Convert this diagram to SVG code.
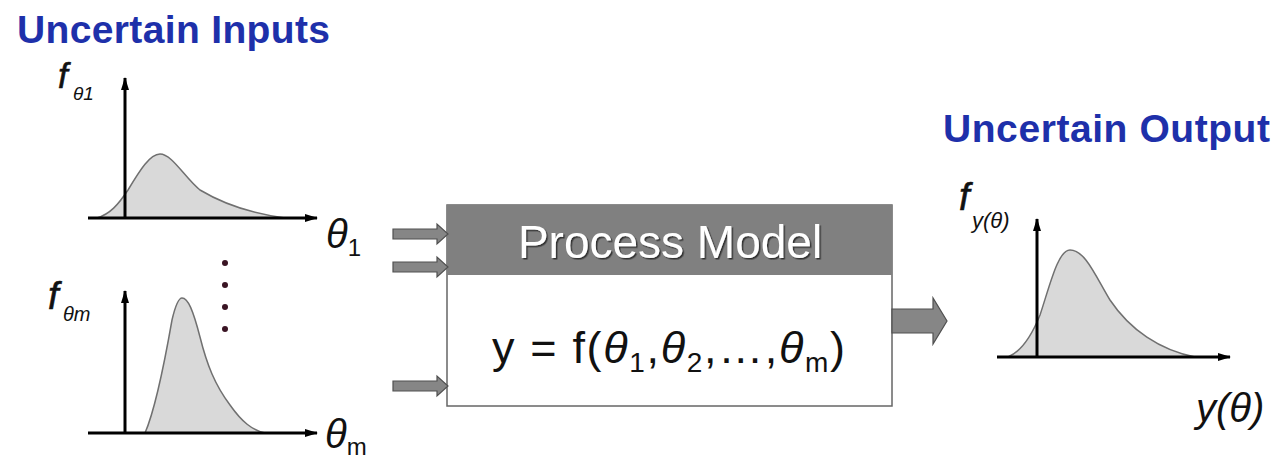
<svg xmlns="http://www.w3.org/2000/svg" width="1279" height="459" viewBox="0 0 1279 459">
<style>
.title{font-family:"Liberation Sans",Arial,sans-serif;font-weight:bold;font-size:39px;fill:#1e30aa}
.axis{stroke:#000;stroke-width:3;fill:none}
.pdf{fill:#d9d9d9;stroke:#707070;stroke-width:1.5}
.lab{font-family:"Liberation Sans",Arial,sans-serif;fill:#111}
.it{font-style:italic}
.fl{font-family:"Liberation Sans",Arial,sans-serif;font-style:italic;fill:#111;stroke:#111;stroke-width:0.6}
.blk{fill:#868686;stroke:#505050;stroke-width:1.2}
.dot{fill:#3a1424}
</style>
<defs>
<marker id="ah" markerWidth="14" markerHeight="10" refX="12" refY="5" orient="auto" markerUnits="userSpaceOnUse">
<path d="M0,1 L13,5 L0,9 Z" fill="#000"/>
</marker>
<filter id="sh" x="-5%" y="-20%" width="110%" height="140%">
<feDropShadow dx="1.5" dy="1.5" stdDeviation="0.6" flood-color="#2a2a2a" flood-opacity="0.9"/>
</filter>
</defs>
<rect width="1279" height="459" fill="#fff"/>

<g id="input-title"><text class="title" x="17" y="43" textLength="313">Uncertain Inputs</text></g>

<g id="pdf-theta1">
<path class="pdf" d="M97,218 C110,214 118,205 128,190 C140,170 150,154 160,154 C172,154 185,178 200,190 C225,205 255,214 285,218 Z"/>
<line class="axis" x1="125" y1="218" x2="125" y2="78" marker-end="url(#ah)"/>
<line class="axis" x1="88" y1="218" x2="317" y2="218" marker-end="url(#ah)"/>
<text class="fl" x="58" y="88" font-size="35">f</text>
<text class="lab it" x="73" y="100" font-size="19">θ1</text>
<text class="lab it" x="326" y="248" font-size="40">θ<tspan font-style="normal" font-size="24" dy="8">1</tspan></text>
</g>

<g id="dots">
<circle class="dot" cx="225" cy="263" r="3"/>
<circle class="dot" cx="225" cy="285" r="3"/>
<circle class="dot" cx="225" cy="307" r="3"/>
<circle class="dot" cx="225" cy="329" r="3"/>
</g>

<g id="pdf-thetam">
<path class="pdf" d="M145,433 C155,410 165,360 172,320 C176,303 179,298 182,298 C188,298 193,310 200,337 C207,365 215,385 230,405 C242,422 252,430 265,433 Z"/>
<line class="axis" x1="125" y1="433" x2="125" y2="291" marker-end="url(#ah)"/>
<line class="axis" x1="88" y1="433" x2="317" y2="433" marker-end="url(#ah)"/>
<text class="fl" x="48" y="309" font-size="38">f</text>
<text class="lab it" x="63" y="321" font-size="20">θm</text>
<text class="lab it" x="325" y="448" font-size="40">θ<tspan font-style="normal" font-size="24" dy="7">m</tspan></text>
</g>

<g id="process-model">
<rect x="447" y="205" width="445" height="201" fill="#fff" stroke="#666" stroke-width="1.5"/>
<rect x="447" y="205" width="445" height="70" fill="#808080"/>
<text x="670" y="258" text-anchor="middle" font-family="Liberation Sans,Arial,sans-serif" font-size="46" fill="#fff" filter="url(#sh)">Process Model</text>
<text class="lab" x="492" y="363" font-size="45" textLength="353" lengthAdjust="spacing">y = f(<tspan class="it">θ</tspan><tspan font-size="28" dy="9">1</tspan><tspan dy="-9">,</tspan><tspan class="it">θ</tspan><tspan font-size="28" dy="9">2</tspan><tspan dy="-9">,…,</tspan><tspan class="it">θ</tspan><tspan font-size="28" dy="9">m</tspan><tspan dy="-9">)</tspan></text>
</g>

<g id="connectors">
<polygon class="blk" points="393,229 437,229 437,224 448,234 437,244 437,239 393,239"/>
<polygon class="blk" points="393,262 437,262 437,257 448,267 437,277 437,272 393,272"/>
<polygon class="blk" points="393,381 437,381 437,376 448,386 437,396 437,391 393,391"/>
<polygon class="blk" points="892,309 933,309 933,298 947,321 933,344 933,333 892,333"/>
</g>

<g id="output-title"><text class="title" x="943" y="142" textLength="327">Uncertain Output</text></g>

<g id="pdf-output">
<path class="pdf" d="M1008,357 C1020,352 1030,340 1040,315 C1050,285 1058,250 1070,250 C1085,250 1095,275 1110,300 C1130,330 1160,350 1195,357 Z"/>
<line class="axis" x1="1037" y1="357" x2="1037" y2="219" marker-end="url(#ah)"/>
<line class="axis" x1="997" y1="357" x2="1230" y2="357" marker-end="url(#ah)"/>
<text class="fl" x="959" y="210" font-size="38">f</text>
<text class="lab it" x="972" y="228" font-size="22">y(θ)</text>
<text class="lab it" x="1196" y="422" font-size="40" fill="#222">y(θ)</text>
</g>
</svg>
